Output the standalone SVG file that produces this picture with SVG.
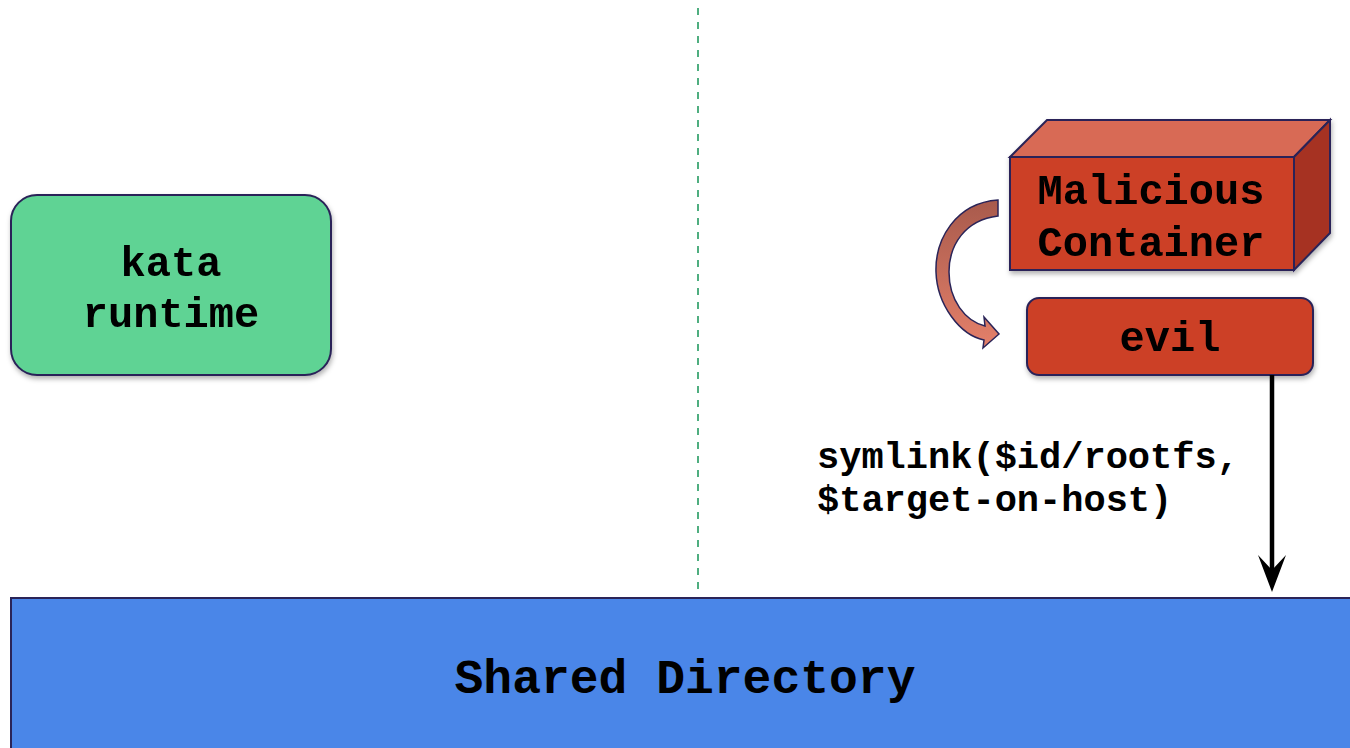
<svg xmlns="http://www.w3.org/2000/svg" width="1350" height="748" viewBox="0 0 1350 748">
<defs>
<style>
.lbl{font-family:"Liberation Mono","Courier New",monospace;font-weight:bold;fill:#000;text-anchor:middle}
.edge{font-family:"Liberation Mono","Courier New",monospace;font-weight:bold;fill:#000}
.box{stroke:#2a2458;stroke-width:2}
</style>
<filter id="sh" x="-10%" y="-10%" width="130%" height="130%">
<feDropShadow dx="1" dy="3" stdDeviation="2.5" flood-color="#000" flood-opacity="0.3"/>
</filter>
<linearGradient id="cg" x1="0" y1="0" x2="0" y2="1">
<stop offset="0" stop-color="#a85a4c"/>
<stop offset="1" stop-color="#e4806a"/>
</linearGradient>
</defs>
<rect width="1350" height="748" fill="#fff"/>
<line x1="698" y1="8" x2="698" y2="592" stroke="#4fae80" stroke-width="2" stroke-dasharray="7,7"/>
<g id="kata-runtime" filter="url(#sh)">
<rect class="box" x="11" y="195" width="320" height="180" rx="26" fill="#5fd394"/>
<text class="lbl" x="171" y="276" font-size="42">kata</text>
<text class="lbl" x="171" y="327" font-size="42">runtime</text>
</g>
<g id="malicious-container" filter="url(#sh)">
<polygon class="box" points="1010,157 1047,120 1330,120 1294,157" fill="#d86a55"/>
<polygon class="box" points="1294,157 1330,120 1330,233 1294,270" fill="#a63220"/>
<rect class="box" x="1010" y="157" width="284" height="113" fill="#cc3f27"/>
<text class="lbl" x="1151" y="204" font-size="42">Malicious</text>
<text class="lbl" x="1151" y="256" font-size="42">Container</text>
</g>
<g id="evil" filter="url(#sh)">
<rect class="box" x="1027" y="298" width="286" height="77" rx="12" fill="#cc3f27"/>
<text class="lbl" x="1170" y="351" font-size="42">evil</text>
</g>
<g id="shared-directory">
<rect class="box" x="11" y="598" width="1345" height="160" fill="#4a86e8"/>
<text class="lbl" x="685" y="693" font-size="48">Shared Directory</text>
</g>
<g id="connectors">
<path d="M 998 200 C 955 203, 935 240, 936 272 C 937 305, 960 335, 984 340 L 983 348 L 999 334 L 984 317 L 985 326 C 965 321, 949 300, 949 272 C 949 245, 965 220, 998 216 Z" fill="url(#cg)" stroke="#2a2458" stroke-width="1.5"/>
<line x1="1272" y1="375" x2="1272" y2="572" stroke="#000" stroke-width="4.5"/>
<path d="M 1258 555 L 1272 592 L 1286 555 L 1272 570 Z" fill="#000"/>
<text class="edge" x="817" y="468" font-size="37">symlink($id/rootfs,</text>
<text class="edge" x="817" y="511" font-size="37">$target-on-host)</text>
</g>
</svg>
